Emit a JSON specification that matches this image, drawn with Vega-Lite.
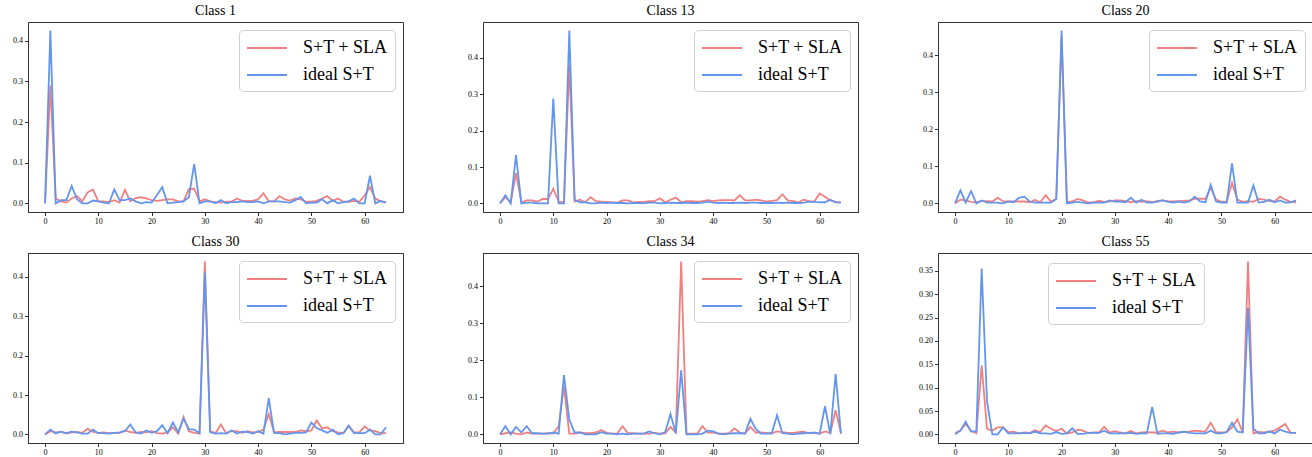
{
"$schema": "https://vega.github.io/schema/vega-lite/v6.json",
"padding": {"left": 1, "top": 3, "right": 2, "bottom": 2},
"background": "white",
"datasets": {
"c1": [
{"x":0,"sla":0,"ideal":0},{"x":1,"sla":0.29,"ideal":0.425},{"x":2,"sla":0.012,"ideal":0},{"x":3,"sla":0.005,"ideal":0.008},{"x":4,"sla":0.002,"ideal":0.008},{"x":5,"sla":0.012,"ideal":0.043},{"x":6,"sla":0.018,"ideal":0.01},{"x":7,"sla":0.005,"ideal":0},{"x":8,"sla":0.027,"ideal":0},{"x":9,"sla":0.034,"ideal":0.007},{"x":10,"sla":0.005,"ideal":0.005},{"x":11,"sla":0.005,"ideal":0.002},{"x":12,"sla":0.003,"ideal":0},{"x":13,"sla":0.008,"ideal":0.034},{"x":14,"sla":0.002,"ideal":0.008},{"x":15,"sla":0.033,"ideal":0.008},{"x":16,"sla":0.005,"ideal":0.012},{"x":17,"sla":0.013,"ideal":0.005},{"x":18,"sla":0.015,"ideal":0},{"x":19,"sla":0.012,"ideal":0.003},{"x":20,"sla":0.008,"ideal":0.002},{"x":21,"sla":0.006,"ideal":0.02},{"x":22,"sla":0.008,"ideal":0.04},{"x":23,"sla":0.01,"ideal":0},{"x":24,"sla":0.01,"ideal":0.002},{"x":25,"sla":0.005,"ideal":0.003},{"x":26,"sla":0.005,"ideal":0.005},{"x":27,"sla":0.035,"ideal":0.015},{"x":28,"sla":0.036,"ideal":0.097},{"x":29,"sla":0.005,"ideal":0},{"x":30,"sla":0.01,"ideal":0.005},{"x":31,"sla":0.005,"ideal":0.005},{"x":32,"sla":0.003,"ideal":0},{"x":33,"sla":0.002,"ideal":0.008},{"x":34,"sla":0.004,"ideal":0},{"x":35,"sla":0.004,"ideal":0.003},{"x":36,"sla":0.012,"ideal":0.003},{"x":37,"sla":0.006,"ideal":0.005},{"x":38,"sla":0.006,"ideal":0.003},{"x":39,"sla":0.006,"ideal":0.003},{"x":40,"sla":0.01,"ideal":0.005},{"x":41,"sla":0.025,"ideal":0},{"x":42,"sla":0.005,"ideal":0.005},{"x":43,"sla":0.005,"ideal":0.005},{"x":44,"sla":0.018,"ideal":0.005},{"x":45,"sla":0.01,"ideal":0.003},{"x":46,"sla":0.007,"ideal":0.002},{"x":47,"sla":0.012,"ideal":0.008},{"x":48,"sla":0.01,"ideal":0.016},{"x":49,"sla":0.004,"ideal":0},{"x":50,"sla":0.004,"ideal":0.002},{"x":51,"sla":0.006,"ideal":0.002},{"x":52,"sla":0.012,"ideal":0.01},{"x":53,"sla":0.018,"ideal":0},{"x":54,"sla":0.006,"ideal":0.008},{"x":55,"sla":0.012,"ideal":0},{"x":56,"sla":0.004,"ideal":0.003},{"x":57,"sla":0.004,"ideal":0.005},{"x":58,"sla":0.006,"ideal":0.012},{"x":59,"sla":0.004,"ideal":0},{"x":60,"sla":0.02,"ideal":0},{"x":61,"sla":0.04,"ideal":0.068},{"x":62,"sla":0.012,"ideal":0},{"x":63,"sla":0.005,"ideal":0.006},{"x":64,"sla":0.003,"ideal":0.002}
],
"c13": [
{"x":0,"sla":0,"ideal":0},{"x":1,"sla":0.018,"ideal":0.022},{"x":2,"sla":0.003,"ideal":0},{"x":3,"sla":0.083,"ideal":0.133},{"x":4,"sla":0.003,"ideal":0},{"x":5,"sla":0.008,"ideal":0.002},{"x":6,"sla":0.008,"ideal":0.002},{"x":7,"sla":0.004,"ideal":0},{"x":8,"sla":0.012,"ideal":0},{"x":9,"sla":0.012,"ideal":0},{"x":10,"sla":0.04,"ideal":0.288},{"x":11,"sla":0.005,"ideal":0},{"x":12,"sla":0.003,"ideal":0},{"x":13,"sla":0.38,"ideal":0.475},{"x":14,"sla":0.005,"ideal":0.01},{"x":15,"sla":0.01,"ideal":0.003},{"x":16,"sla":0.003,"ideal":0.003},{"x":17,"sla":0.017,"ideal":0},{"x":18,"sla":0.006,"ideal":0},{"x":19,"sla":0.005,"ideal":0.002},{"x":20,"sla":0.004,"ideal":0.001},{"x":21,"sla":0.003,"ideal":0.002},{"x":22,"sla":0.002,"ideal":0.001},{"x":23,"sla":0.008,"ideal":0.001},{"x":24,"sla":0.008,"ideal":0},{"x":25,"sla":0.003,"ideal":0.001},{"x":26,"sla":0.004,"ideal":0.001},{"x":27,"sla":0.004,"ideal":0},{"x":28,"sla":0.006,"ideal":0.002},{"x":29,"sla":0.006,"ideal":0.002},{"x":30,"sla":0.014,"ideal":0},{"x":31,"sla":0.003,"ideal":0.001},{"x":32,"sla":0.01,"ideal":0.002},{"x":33,"sla":0.016,"ideal":0.001},{"x":34,"sla":0.003,"ideal":0.001},{"x":35,"sla":0.006,"ideal":0.002},{"x":36,"sla":0.006,"ideal":0.001},{"x":37,"sla":0.005,"ideal":0.001},{"x":38,"sla":0.006,"ideal":0.002},{"x":39,"sla":0.009,"ideal":0.005},{"x":40,"sla":0.006,"ideal":0.002},{"x":41,"sla":0.008,"ideal":0.001},{"x":42,"sla":0.009,"ideal":0.002},{"x":43,"sla":0.009,"ideal":0.001},{"x":44,"sla":0.008,"ideal":0.001},{"x":45,"sla":0.022,"ideal":0.002},{"x":46,"sla":0.008,"ideal":0.001},{"x":47,"sla":0.008,"ideal":0.002},{"x":48,"sla":0.01,"ideal":0.002},{"x":49,"sla":0.008,"ideal":0.001},{"x":50,"sla":0.005,"ideal":0.001},{"x":51,"sla":0.007,"ideal":0.001},{"x":52,"sla":0.009,"ideal":0.002},{"x":53,"sla":0.025,"ideal":0.001},{"x":54,"sla":0.008,"ideal":0.002},{"x":55,"sla":0.006,"ideal":0.001},{"x":56,"sla":0.003,"ideal":0.001},{"x":57,"sla":0.01,"ideal":0.002},{"x":58,"sla":0.006,"ideal":0.005},{"x":59,"sla":0.005,"ideal":0.004},{"x":60,"sla":0.027,"ideal":0.003},{"x":61,"sla":0.018,"ideal":0.003},{"x":62,"sla":0.008,"ideal":0.01},{"x":63,"sla":0.004,"ideal":0.003},{"x":64,"sla":0.003,"ideal":0.002}
],
"c20": [
{"x":0,"sla":0,"ideal":0},{"x":1,"sla":0.01,"ideal":0.035},{"x":2,"sla":0.008,"ideal":0.002},{"x":3,"sla":0.004,"ideal":0.033},{"x":4,"sla":0.003,"ideal":0},{"x":5,"sla":0.006,"ideal":0.008},{"x":6,"sla":0.006,"ideal":0.002},{"x":7,"sla":0.005,"ideal":0.002},{"x":8,"sla":0.015,"ideal":0.002},{"x":9,"sla":0.006,"ideal":0},{"x":10,"sla":0.005,"ideal":0.005},{"x":11,"sla":0.005,"ideal":0.003},{"x":12,"sla":0.005,"ideal":0.015},{"x":13,"sla":0.005,"ideal":0.018},{"x":14,"sla":0.003,"ideal":0.005},{"x":15,"sla":0.009,"ideal":0.002},{"x":16,"sla":0.003,"ideal":0.002},{"x":17,"sla":0.022,"ideal":0.002},{"x":18,"sla":0.005,"ideal":0.002},{"x":19,"sla":0.012,"ideal":0.012},{"x":20,"sla":0.45,"ideal":0.467},{"x":21,"sla":0.003,"ideal":0},{"x":22,"sla":0.005,"ideal":0.002},{"x":23,"sla":0.012,"ideal":0.004},{"x":24,"sla":0.008,"ideal":0.002},{"x":25,"sla":0.002,"ideal":0},{"x":26,"sla":0.003,"ideal":0.002},{"x":27,"sla":0.007,"ideal":0.002},{"x":28,"sla":0.004,"ideal":0.002},{"x":29,"sla":0.005,"ideal":0.008},{"x":30,"sla":0.008,"ideal":0.005},{"x":31,"sla":0.008,"ideal":0.005},{"x":32,"sla":0.006,"ideal":0.003},{"x":33,"sla":0.003,"ideal":0.015},{"x":34,"sla":0.006,"ideal":0.002},{"x":35,"sla":0.004,"ideal":0.01},{"x":36,"sla":0.006,"ideal":0.002},{"x":37,"sla":0.003,"ideal":0.002},{"x":38,"sla":0.007,"ideal":0.005},{"x":39,"sla":0.008,"ideal":0.008},{"x":40,"sla":0.006,"ideal":0.004},{"x":41,"sla":0.005,"ideal":0.002},{"x":42,"sla":0.006,"ideal":0.005},{"x":43,"sla":0.007,"ideal":0.002},{"x":44,"sla":0.008,"ideal":0.005},{"x":45,"sla":0.012,"ideal":0.018},{"x":46,"sla":0.013,"ideal":0.005},{"x":47,"sla":0.012,"ideal":0.003},{"x":48,"sla":0.042,"ideal":0.05},{"x":49,"sla":0.01,"ideal":0.005},{"x":50,"sla":0.004,"ideal":0.002},{"x":51,"sla":0.005,"ideal":0.002},{"x":52,"sla":0.055,"ideal":0.108},{"x":53,"sla":0.01,"ideal":0.002},{"x":54,"sla":0.004,"ideal":0.002},{"x":55,"sla":0.006,"ideal":0.002},{"x":56,"sla":0.004,"ideal":0.048},{"x":57,"sla":0.012,"ideal":0.002},{"x":58,"sla":0.01,"ideal":0.004},{"x":59,"sla":0.006,"ideal":0.01},{"x":60,"sla":0.005,"ideal":0.003},{"x":61,"sla":0.018,"ideal":0.008},{"x":62,"sla":0.01,"ideal":0.002},{"x":63,"sla":0.004,"ideal":0.003},{"x":64,"sla":0.003,"ideal":0.008}
],
"c30": [
{"x":0,"sla":0,"ideal":0},{"x":1,"sla":0.008,"ideal":0.012},{"x":2,"sla":0.005,"ideal":0.002},{"x":3,"sla":0.006,"ideal":0.007},{"x":4,"sla":0.002,"ideal":0.003},{"x":5,"sla":0.005,"ideal":0.007},{"x":6,"sla":0.006,"ideal":0.005},{"x":7,"sla":0.004,"ideal":0.002},{"x":8,"sla":0.014,"ideal":0.002},{"x":9,"sla":0.006,"ideal":0.012},{"x":10,"sla":0.004,"ideal":0.003},{"x":11,"sla":0.005,"ideal":0.003},{"x":12,"sla":0.003,"ideal":0.002},{"x":13,"sla":0.004,"ideal":0.004},{"x":14,"sla":0.004,"ideal":0.005},{"x":15,"sla":0.01,"ideal":0.008},{"x":16,"sla":0.006,"ideal":0.025},{"x":17,"sla":0.004,"ideal":0.005},{"x":18,"sla":0.006,"ideal":0.002},{"x":19,"sla":0.005,"ideal":0.01},{"x":20,"sla":0.008,"ideal":0.004},{"x":21,"sla":0.003,"ideal":0.008},{"x":22,"sla":0.002,"ideal":0.023},{"x":23,"sla":0.005,"ideal":0.003},{"x":24,"sla":0.018,"ideal":0.03},{"x":25,"sla":0.002,"ideal":0.005},{"x":26,"sla":0.044,"ideal":0.04},{"x":27,"sla":0.008,"ideal":0.013},{"x":28,"sla":0.004,"ideal":0.012},{"x":29,"sla":0.002,"ideal":0.003},{"x":30,"sla":0.439,"ideal":0.411},{"x":31,"sla":0.008,"ideal":0.005},{"x":32,"sla":0.003,"ideal":0.002},{"x":33,"sla":0.025,"ideal":0.003},{"x":34,"sla":0.003,"ideal":0.002},{"x":35,"sla":0.008,"ideal":0.01},{"x":36,"sla":0.008,"ideal":0.002},{"x":37,"sla":0.004,"ideal":0.007},{"x":38,"sla":0.008,"ideal":0.006},{"x":39,"sla":0.005,"ideal":0.002},{"x":40,"sla":0.006,"ideal":0.008},{"x":41,"sla":0.012,"ideal":0.002},{"x":42,"sla":0.052,"ideal":0.092},{"x":43,"sla":0.005,"ideal":0.003},{"x":44,"sla":0.006,"ideal":0.003},{"x":45,"sla":0.006,"ideal":0},{"x":46,"sla":0.006,"ideal":0.002},{"x":47,"sla":0.006,"ideal":0.004},{"x":48,"sla":0.01,"ideal":0.004},{"x":49,"sla":0.008,"ideal":0.005},{"x":50,"sla":0.01,"ideal":0.03},{"x":51,"sla":0.035,"ideal":0.016},{"x":52,"sla":0.015,"ideal":0.01},{"x":53,"sla":0.018,"ideal":0.004},{"x":54,"sla":0.008,"ideal":0.012},{"x":55,"sla":0.005,"ideal":0},{"x":56,"sla":0.003,"ideal":0.003},{"x":57,"sla":0.022,"ideal":0.022},{"x":58,"sla":0.005,"ideal":0.003},{"x":59,"sla":0.005,"ideal":0.003},{"x":60,"sla":0.02,"ideal":0.003},{"x":61,"sla":0.01,"ideal":0.012},{"x":62,"sla":0.008,"ideal":0},{"x":63,"sla":0.003,"ideal":0},{"x":64,"sla":0.003,"ideal":0.018}
],
"c34": [
{"x":0,"sla":0,"ideal":0},{"x":1,"sla":0.003,"ideal":0.022},{"x":2,"sla":0.005,"ideal":0},{"x":3,"sla":0.002,"ideal":0.02},{"x":4,"sla":0,"ideal":0.005},{"x":5,"sla":0.005,"ideal":0.022},{"x":6,"sla":0.002,"ideal":0.003},{"x":7,"sla":0.002,"ideal":0.003},{"x":8,"sla":0.002,"ideal":0.002},{"x":9,"sla":0.003,"ideal":0.002},{"x":10,"sla":0.003,"ideal":0.005},{"x":11,"sla":0.022,"ideal":0.002},{"x":12,"sla":0.13,"ideal":0.16},{"x":13,"sla":0.002,"ideal":0.04},{"x":14,"sla":0.002,"ideal":0.005},{"x":15,"sla":0.005,"ideal":0.005},{"x":16,"sla":0.003,"ideal":0},{"x":17,"sla":0.003,"ideal":0},{"x":18,"sla":0.005,"ideal":0},{"x":19,"sla":0.012,"ideal":0.006},{"x":20,"sla":0.004,"ideal":0.002},{"x":21,"sla":0.002,"ideal":0.002},{"x":22,"sla":0.002,"ideal":0},{"x":23,"sla":0.022,"ideal":0.002},{"x":24,"sla":0.003,"ideal":0},{"x":25,"sla":0.003,"ideal":0.002},{"x":26,"sla":0.002,"ideal":0.002},{"x":27,"sla":0.002,"ideal":0.002},{"x":28,"sla":0.002,"ideal":0.008},{"x":29,"sla":0.004,"ideal":0.003},{"x":30,"sla":0.002,"ideal":0},{"x":31,"sla":0.003,"ideal":0.006},{"x":32,"sla":0.02,"ideal":0.055},{"x":33,"sla":0.005,"ideal":0.003},{"x":34,"sla":0.467,"ideal":0.173},{"x":35,"sla":0.002,"ideal":0},{"x":36,"sla":0.002,"ideal":0},{"x":37,"sla":0.002,"ideal":0},{"x":38,"sla":0.022,"ideal":0.002},{"x":39,"sla":0.005,"ideal":0.01},{"x":40,"sla":0.005,"ideal":0.008},{"x":41,"sla":0.002,"ideal":0.002},{"x":42,"sla":0.002,"ideal":0},{"x":43,"sla":0.003,"ideal":0.002},{"x":44,"sla":0.016,"ideal":0.003},{"x":45,"sla":0.005,"ideal":0.003},{"x":46,"sla":0.002,"ideal":0.002},{"x":47,"sla":0.02,"ideal":0.042},{"x":48,"sla":0.005,"ideal":0.015},{"x":49,"sla":0.005,"ideal":0.002},{"x":50,"sla":0.004,"ideal":0.002},{"x":51,"sla":0.003,"ideal":0.002},{"x":52,"sla":0.008,"ideal":0.052},{"x":53,"sla":0.006,"ideal":0.003},{"x":54,"sla":0.004,"ideal":0.002},{"x":55,"sla":0.004,"ideal":0},{"x":56,"sla":0.006,"ideal":0.002},{"x":57,"sla":0.007,"ideal":0.003},{"x":58,"sla":0.003,"ideal":0.004},{"x":59,"sla":0.005,"ideal":0.004},{"x":60,"sla":0.002,"ideal":0.002},{"x":61,"sla":0.008,"ideal":0.076},{"x":62,"sla":0.004,"ideal":0},{"x":63,"sla":0.065,"ideal":0.163},{"x":64,"sla":0.003,"ideal":0.002}
],
"c55": [
{"x":0,"sla":0.003,"ideal":0},{"x":1,"sla":0.008,"ideal":0.008},{"x":2,"sla":0.022,"ideal":0.027},{"x":3,"sla":0.008,"ideal":0.006},{"x":4,"sla":0.002,"ideal":0.007},{"x":5,"sla":0.148,"ideal":0.355},{"x":6,"sla":0.012,"ideal":0.071},{"x":7,"sla":0.008,"ideal":0},{"x":8,"sla":0.015,"ideal":0},{"x":9,"sla":0.015,"ideal":0.015},{"x":10,"sla":0.005,"ideal":0.002},{"x":11,"sla":0.006,"ideal":0.002},{"x":12,"sla":0.002,"ideal":0.002},{"x":13,"sla":0.004,"ideal":0.003},{"x":14,"sla":0.003,"ideal":0.002},{"x":15,"sla":0.009,"ideal":0.006},{"x":16,"sla":0.005,"ideal":0.002},{"x":17,"sla":0.019,"ideal":0.002},{"x":18,"sla":0.012,"ideal":0.001},{"x":19,"sla":0.007,"ideal":0.005},{"x":20,"sla":0.012,"ideal":0.001},{"x":21,"sla":0.002,"ideal":0.002},{"x":22,"sla":0.004,"ideal":0.013},{"x":23,"sla":0.01,"ideal":0.001},{"x":24,"sla":0.008,"ideal":0.001},{"x":25,"sla":0.003,"ideal":0.003},{"x":26,"sla":0.004,"ideal":0.003},{"x":27,"sla":0.004,"ideal":0.003},{"x":28,"sla":0.016,"ideal":0.008},{"x":29,"sla":0.004,"ideal":0.002},{"x":30,"sla":0.007,"ideal":0.002},{"x":31,"sla":0.004,"ideal":0.002},{"x":32,"sla":0.002,"ideal":0.002},{"x":33,"sla":0.007,"ideal":0.003},{"x":34,"sla":0.002,"ideal":0.001},{"x":35,"sla":0.004,"ideal":0.002},{"x":36,"sla":0.005,"ideal":0.002},{"x":37,"sla":0.004,"ideal":0.059},{"x":38,"sla":0.004,"ideal":0.001},{"x":39,"sla":0.008,"ideal":0.002},{"x":40,"sla":0.004,"ideal":0.002},{"x":41,"sla":0.006,"ideal":0.001},{"x":42,"sla":0.004,"ideal":0.004},{"x":43,"sla":0.005,"ideal":0.006},{"x":44,"sla":0.006,"ideal":0.003},{"x":45,"sla":0.008,"ideal":0.002},{"x":46,"sla":0.007,"ideal":0.002},{"x":47,"sla":0.006,"ideal":0.002},{"x":48,"sla":0.025,"ideal":0.008},{"x":49,"sla":0.004,"ideal":0.002},{"x":50,"sla":0.004,"ideal":0.002},{"x":51,"sla":0.005,"ideal":0.005},{"x":52,"sla":0.015,"ideal":0.025},{"x":53,"sla":0.032,"ideal":0.006},{"x":54,"sla":0.005,"ideal":0.004},{"x":55,"sla":0.37,"ideal":0.271},{"x":56,"sla":0.002,"ideal":0.012},{"x":57,"sla":0.005,"ideal":0.002},{"x":58,"sla":0.004,"ideal":0.002},{"x":59,"sla":0.006,"ideal":0.006},{"x":60,"sla":0.008,"ideal":0.002},{"x":61,"sla":0.015,"ideal":0.01},{"x":62,"sla":0.022,"ideal":0.006},{"x":63,"sla":0.003,"ideal":0.003},{"x":64,"sla":0.003,"ideal":0.003}
]
},
"columns": 3,
"spacing": {"column": 52, "row": 8},
"resolve": {"scale": {"x": "independent", "y": "independent", "color": "independent"}, "legend": {"color": "independent"}},
"concat": [
{"title": "Class 1", "width": 375, "height": 190, "data": {"name": "c1"},
 "transform": [{"fold": ["sla", "ideal"], "as": ["series", "v"]}],
 "mark": {"type": "line", "strokeWidth": 1.8},
 "encoding": {
  "x": {"field": "x", "type": "quantitative", "scale": {"domain": [-3.2, 67.2], "nice": false, "zero": false}, "axis": {"values": [0,10,20,30,40,50,60], "format": "d", "title": null}},
  "y": {"field": "v", "type": "quantitative", "scale": {"domain": [-0.02125, 0.44625], "nice": false, "zero": false}, "axis": {"values": [0,0.1,0.2,0.3,0.4], "format": ".1f", "title": null}},
  "color": {"field": "series", "type": "nominal", "sort": null, "scale": {"domain": ["sla", "ideal"], "range": ["#F08080", "#6495ED"]}, "legend": {"orient": "top-right", "labelExpr": "datum.value == 'sla' ? 'S+T + SLA' : 'ideal S+T'"}}
 }},
{"title": "Class 13", "width": 375, "height": 190, "data": {"name": "c13"},
 "transform": [{"fold": ["sla", "ideal"], "as": ["series", "v"]}],
 "mark": {"type": "line", "strokeWidth": 1.8},
 "encoding": {
  "x": {"field": "x", "type": "quantitative", "scale": {"domain": [-3.2, 67.2], "nice": false, "zero": false}, "axis": {"values": [0,10,20,30,40,50,60], "format": "d", "title": null}},
  "y": {"field": "v", "type": "quantitative", "scale": {"domain": [-0.02375, 0.49875], "nice": false, "zero": false}, "axis": {"values": [0,0.1,0.2,0.3,0.4], "format": ".1f", "title": null}},
  "color": {"field": "series", "type": "nominal", "sort": null, "scale": {"domain": ["sla", "ideal"], "range": ["#F08080", "#6495ED"]}, "legend": {"orient": "top-right", "labelExpr": "datum.value == 'sla' ? 'S+T + SLA' : 'ideal S+T'"}}
 }},
{"title": "Class 20", "width": 375, "height": 190, "data": {"name": "c20"},
 "transform": [{"fold": ["sla", "ideal"], "as": ["series", "v"]}],
 "mark": {"type": "line", "strokeWidth": 1.8},
 "encoding": {
  "x": {"field": "x", "type": "quantitative", "scale": {"domain": [-3.2, 67.2], "nice": false, "zero": false}, "axis": {"values": [0,10,20,30,40,50,60], "format": "d", "title": null}},
  "y": {"field": "v", "type": "quantitative", "scale": {"domain": [-0.02335, 0.49035], "nice": false, "zero": false}, "axis": {"values": [0,0.1,0.2,0.3,0.4], "format": ".1f", "title": null}},
  "color": {"field": "series", "type": "nominal", "sort": null, "scale": {"domain": ["sla", "ideal"], "range": ["#F08080", "#6495ED"]}, "legend": {"orient": "top-right", "labelExpr": "datum.value == 'sla' ? 'S+T + SLA' : 'ideal S+T'"}}
 }},
{"title": "Class 30", "width": 375, "height": 190, "data": {"name": "c30"},
 "transform": [{"fold": ["sla", "ideal"], "as": ["series", "v"]}],
 "mark": {"type": "line", "strokeWidth": 1.8},
 "encoding": {
  "x": {"field": "x", "type": "quantitative", "scale": {"domain": [-3.2, 67.2], "nice": false, "zero": false}, "axis": {"values": [0,10,20,30,40,50,60], "format": "d", "title": null}},
  "y": {"field": "v", "type": "quantitative", "scale": {"domain": [-0.02195, 0.46095], "nice": false, "zero": false}, "axis": {"values": [0,0.1,0.2,0.3,0.4], "format": ".1f", "title": null}},
  "color": {"field": "series", "type": "nominal", "sort": null, "scale": {"domain": ["sla", "ideal"], "range": ["#F08080", "#6495ED"]}, "legend": {"orient": "top-right", "labelExpr": "datum.value == 'sla' ? 'S+T + SLA' : 'ideal S+T'"}}
 }},
{"title": "Class 34", "width": 375, "height": 190, "data": {"name": "c34"},
 "transform": [{"fold": ["sla", "ideal"], "as": ["series", "v"]}],
 "mark": {"type": "line", "strokeWidth": 1.8},
 "encoding": {
  "x": {"field": "x", "type": "quantitative", "scale": {"domain": [-3.2, 67.2], "nice": false, "zero": false}, "axis": {"values": [0,10,20,30,40,50,60], "format": "d", "title": null}},
  "y": {"field": "v", "type": "quantitative", "scale": {"domain": [-0.02335, 0.49035], "nice": false, "zero": false}, "axis": {"values": [0,0.1,0.2,0.3,0.4], "format": ".1f", "title": null}},
  "color": {"field": "series", "type": "nominal", "sort": null, "scale": {"domain": ["sla", "ideal"], "range": ["#F08080", "#6495ED"]}, "legend": {"orient": "top-right", "labelExpr": "datum.value == 'sla' ? 'S+T + SLA' : 'ideal S+T'"}}
 }},
{"title": "Class 55", "width": 375, "height": 190, "data": {"name": "c55"},
 "transform": [{"fold": ["sla", "ideal"], "as": ["series", "v"]}],
 "mark": {"type": "line", "strokeWidth": 1.8},
 "encoding": {
  "x": {"field": "x", "type": "quantitative", "scale": {"domain": [-3.2, 67.2], "nice": false, "zero": false}, "axis": {"values": [0,10,20,30,40,50,60], "format": "d", "title": null}},
  "y": {"field": "v", "type": "quantitative", "scale": {"domain": [-0.0185, 0.3885], "nice": false, "zero": false}, "axis": {"values": [0,0.05,0.1,0.15,0.2,0.25,0.3,0.35], "format": ".2f", "title": null}},
  "color": {"field": "series", "type": "nominal", "sort": null, "scale": {"domain": ["sla", "ideal"], "range": ["#F08080", "#6495ED"]}, "legend": {"orient": "none", "legendX": 110, "legendY": 10, "labelExpr": "datum.value == 'sla' ? 'S+T + SLA' : 'ideal S+T'"}}
 }}
],
"config": {
 "font": "Liberation Serif",
 "view": {"stroke": "#333333", "strokeWidth": 1},
 "axis": {"grid": false, "labelFont": "Liberation Serif", "labelFontSize": 8, "labelColor": "#000000", "tickColor": "#333333", "domainColor": "#333333", "tickSize": 3.5, "labelPadding": 2, "labelFlush": false, "labelOverlap": false},
 "axisY": {"minExtent": 26, "maxExtent": 26},
 "title": {"font": "Liberation Serif", "fontSize": 14, "fontWeight": "normal", "color": "#000000", "offset": 4},
 "legend": {"title": null, "offset": 8, "symbolType": "M-1,0H3", "symbolSize": 400, "symbolStrokeWidth": 2, "labelFont": "Liberation Serif", "labelFontSize": 18, "labelColor": "#000000", "labelOffset": 35, "rowPadding": 7, "padding": 7, "fillColor": "rgba(255,255,255,0.8)", "strokeColor": "#d0d0d0", "cornerRadius": 4}
}
}
